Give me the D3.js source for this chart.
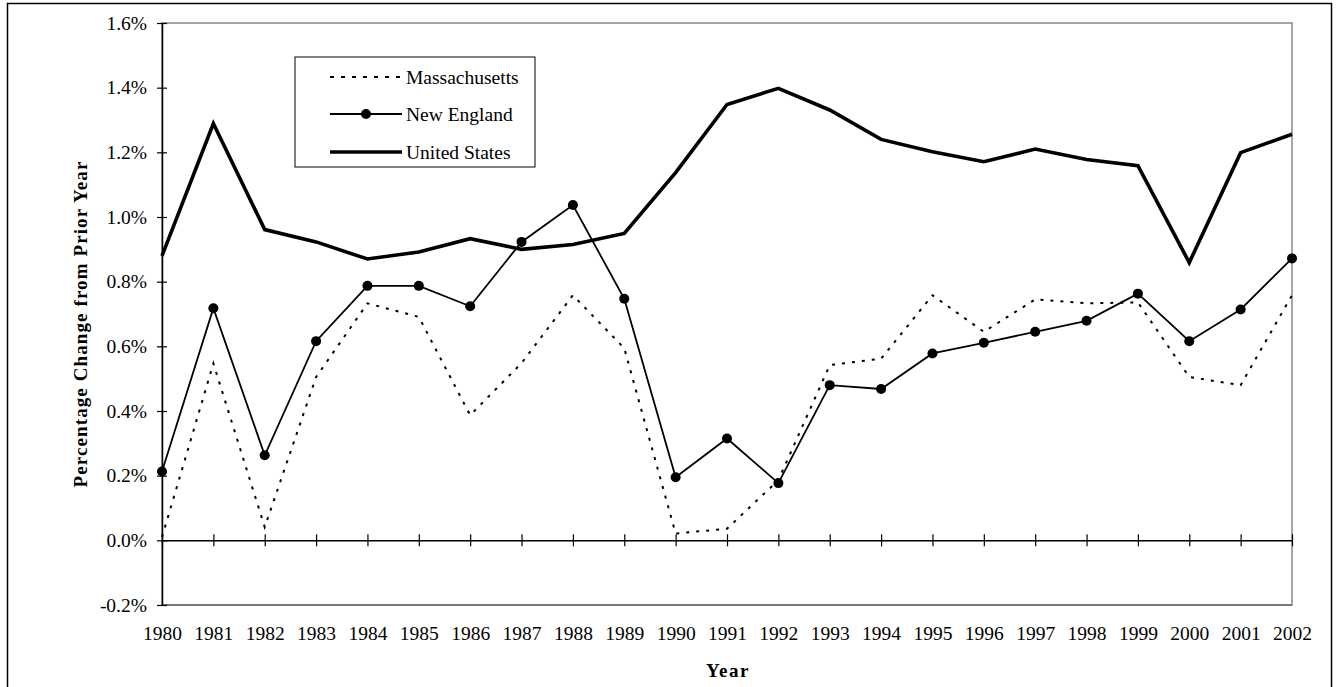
<!DOCTYPE html>
<html>
<head>
<meta charset="utf-8">
<script src="https://cdn.jsdelivr.net/npm/d3@7"></script>
<style>
  html, body { margin: 0; padding: 0; background: #fff; }
  svg { display: block; font-family: "Liberation Serif", "Times New Roman", serif; }
</style>
</head>
<body>
<svg id="chart" width="1337" height="687"></svg>
<script>
const years = [1980,1981,1982,1983,1984,1985,1986,1987,1988,1989,1990,1991,1992,1993,1994,1995,1996,1997,1998,1999,2000,2001,2002];
const massachusetts = [0.01,0.547,0.041,0.505,0.733,0.691,0.387,0.548,0.758,0.594,0.021,0.036,0.186,0.542,0.562,0.758,0.645,0.745,0.733,0.736,0.505,0.480,0.758];
const newEngland = [0.213,0.718,0.263,0.616,0.787,0.787,0.724,0.923,1.037,0.747,0.195,0.315,0.177,0.480,0.468,0.578,0.611,0.645,0.679,0.763,0.616,0.714,0.872];
const unitedStates = [0.88,1.289,0.961,0.923,0.870,0.892,0.933,0.900,0.915,0.949,1.137,1.348,1.398,1.331,1.240,1.202,1.171,1.210,1.178,1.159,0.859,1.199,1.256];
const yTicks = [-0.2,0,0.2,0.4,0.6,0.8,1.0,1.2,1.4,1.6];
const seriesNames = ["Massachusetts","New England","United States"];

const svg = d3.select("#chart");
const L = 162, R = 1292, T = 23, B = 605;
const FONT = "Liberation Serif, Times New Roman, serif";

// outer frame
svg.append("rect").attr("x",7.5).attr("y",3.5).attr("width",1324).attr("height",690)
  .attr("fill","none").attr("stroke","#000").attr("stroke-width",1.5);

const x = d3.scalePoint().domain(years).range([L, R]);
const y = d3.scaleLinear().domain([-0.2, 1.6]).range([B, T]);

// plot area border (grey)
svg.append("rect").attr("x",L).attr("y",T).attr("width",R-L).attr("height",B-T)
  .attr("fill","none").attr("stroke","#888").attr("stroke-width",1.5);
svg.append("line").attr("x1",L).attr("x2",R).attr("y1",B).attr("y2",B)
  .attr("stroke","#777").attr("stroke-width",2.2);

// y axis
const yAxis = svg.append("g").attr("transform",`translate(${L},0)`)
  .call(d3.axisLeft(y).tickValues(yTicks).tickSizeOuter(0).tickSizeInner(5).tickPadding(10)
    .tickFormat(d => d.toFixed(1) + "%"));
yAxis.select(".domain").attr("stroke","#000").attr("stroke-width",1.5);
yAxis.selectAll(".tick line").attr("x1",5).attr("x2",-5).attr("stroke","#000").attr("stroke-width",1.2);
yAxis.selectAll(".tick text").attr("font-size",19.5).attr("fill","#000").attr("font-family",FONT);

// x axis line at zero with crossing ticks
const xAxis0 = svg.append("g").attr("transform",`translate(0,${y(0)})`)
  .call(d3.axisBottom(x).tickSizeOuter(0).tickSizeInner(6).tickFormat(""));
xAxis0.select(".domain").attr("stroke","#000").attr("stroke-width",1.5);
xAxis0.selectAll(".tick line").attr("y1",-6).attr("y2",6).attr("stroke","#000").attr("stroke-width",1.2);

// x labels below plot
const xLab = svg.append("g").attr("transform",`translate(0,${B})`)
  .call(d3.axisBottom(x).tickSize(0).tickPadding(21));
xLab.select(".domain").remove();
xLab.selectAll(".tick text").attr("font-size",19.5).attr("fill","#000").attr("font-family",FONT);

// axis titles
svg.append("text").attr("x",728).attr("y",677).attr("text-anchor","middle").attr("font-family",FONT)
  .attr("font-size",19).attr("font-weight","bold").attr("letter-spacing",1.5).text("Year");
svg.append("text").attr("transform","translate(87,324) rotate(-90)").attr("text-anchor","middle").attr("font-family",FONT)
  .attr("font-size",19).attr("font-weight","bold").attr("letter-spacing",1.1).text("Percentage Change from Prior Year");

const line = d3.line().x((d,i) => x(years[i])).y(d => y(d));

svg.append("path").datum(massachusetts).attr("d",line).attr("fill","none")
  .attr("stroke","#000").attr("stroke-width",2).attr("stroke-dasharray","3,7");
svg.append("path").datum(unitedStates).attr("d",line).attr("fill","none")
  .attr("stroke","#000").attr("stroke-width",3.6).attr("stroke-linejoin","miter");
svg.append("path").datum(newEngland).attr("d",line).attr("fill","none")
  .attr("stroke","#000").attr("stroke-width",1.8);
svg.append("g").selectAll("circle").data(newEngland).join("circle")
  .attr("cx",(d,i) => x(years[i])).attr("cy",d => y(d)).attr("r",5).attr("fill","#000");

// legend
const lg = svg.append("g");
lg.append("rect").attr("x",295).attr("y",57).attr("width",240).attr("height",110)
  .attr("fill","#fff").attr("stroke","#000").attr("stroke-width",1);
const rowsY = [77, 114, 152];
const styles = [
  {w:2, dash:"4,7", marker:false},
  {w:1.8, dash:null, marker:true},
  {w:3.6, dash:null, marker:false}
];
seriesNames.forEach((name, i) => {
  const ly = rowsY[i];
  const s = styles[i];
  const ln = lg.append("line").attr("x1",330).attr("x2",402).attr("y1",ly).attr("y2",ly)
    .attr("stroke","#000").attr("stroke-width",s.w);
  if (s.dash) ln.attr("stroke-dasharray", s.dash);
  if (s.marker) lg.append("circle").attr("cx",366).attr("cy",ly).attr("r",5).attr("fill","#000");
  lg.append("text").attr("x",406).attr("y",ly+6.5).attr("font-family",FONT).attr("font-size",19.5).text(name);
});
</script>
</body>
</html>
